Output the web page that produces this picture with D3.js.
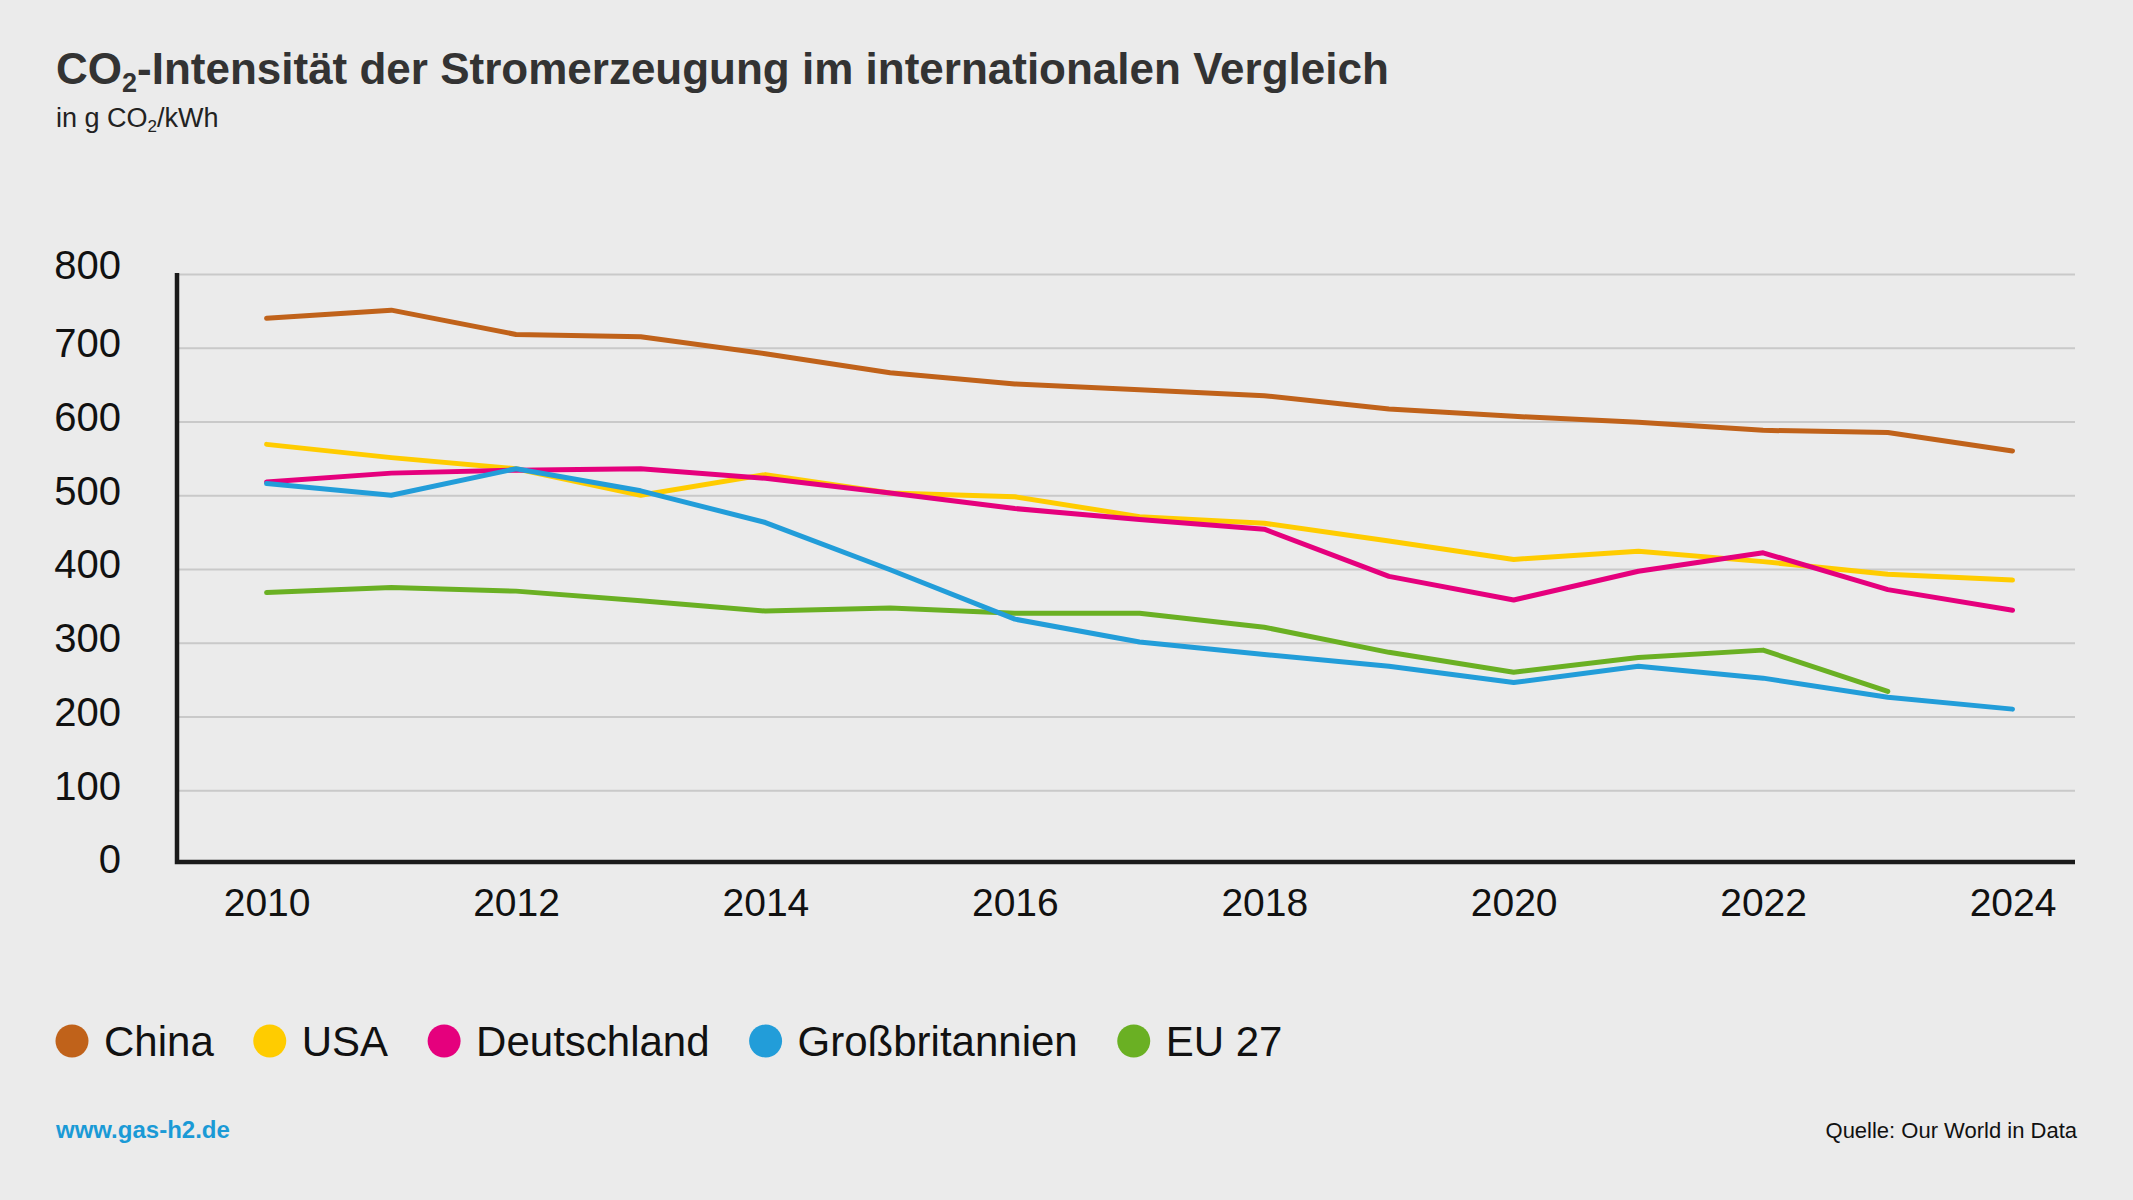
<!DOCTYPE html>
<html>
<head>
<meta charset="utf-8">
<script src="https://cdn.jsdelivr.net/npm/d3@7"></script>
<style>
  body { margin: 0; background: #ebebeb; }
  svg { display: block; font-family: 'Liberation Sans', Arial, Helvetica, sans-serif; }
</style>
</head>
<body>
<div id="chart"></div>
<script>
const years = [2010, 2011, 2012, 2013, 2014, 2015, 2016, 2017, 2018, 2019, 2020, 2021, 2022, 2023, 2024];
const china = [740, 751, 718, 715, 692, 666, 651, 643, 635, 617, 607, 599, 588, 585, 560];
const usa = [569, 551, 536, 500, 528, 503, 498, 471, 462, 438, 413, 424, 410, 393, 385];
const deutschland = [518, 530, 534, 536, 523, 503, 482, 467, 454, 390, 358, 397, 422, 372, 344];
const grossbritannien = [516, 500, 536, 506, 463, 399, 332, 301, 284, 268, 246, 268, 252, 226, 210];
const eu27 = [368, 375, 370, 357, 343, 347, 340, 340, 321, 287, 260, 280, 290, 234];
const yTicks = [0, 100, 200, 300, 400, 500, 600, 700, 800];
const xTicks = [2010, 2012, 2014, 2016, 2018, 2020, 2022, 2024];

const series = [
  { name: 'China', values: china, color: '#c0621a' },
  { name: 'USA', values: usa, color: '#ffcc00' },
  { name: 'Deutschland', values: deutschland, color: '#e5007d' },
  { name: 'Großbritannien', values: grossbritannien, color: '#229dd9' },
  { name: 'EU 27', values: eu27, color: '#6ab023' },
];
// Zeichenreihenfolge: blau liegt oben
const drawOrder = ['China', 'USA', 'EU 27', 'Deutschland', 'Großbritannien'];

const width = 2133;
const height = 1200;
const plot = { left: 177, right: 2075, top: 274, bottom: 864 };

const svg = d3.select('#chart').append('svg')
  .attr('width', width)
  .attr('height', height);

svg.append('rect').attr('width', width).attr('height', height).attr('fill', '#ebebeb');

// Titel
const title = svg.append('text')
  .attr('x', 56).attr('y', 84)
  .attr('font-size', 44).attr('font-weight', 700)
  .attr('fill', '#333333');
title.append('tspan').text('CO');
title.append('tspan').attr('font-size', 27).attr('dy', 8).text('2');
title.append('tspan').attr('dy', -8).text('-Intensität der Stromerzeugung im internationalen Vergleich');

const sub = svg.append('text')
  .attr('x', 56).attr('y', 127)
  .attr('font-size', 27)
  .attr('fill', '#222222');
sub.append('tspan').text('in g CO');
sub.append('tspan').attr('font-size', 17).attr('dy', 5).text('2');
sub.append('tspan').attr('dy', -5).text('/kWh');

const x = d3.scaleLinear().domain([2010, 2024]).range([266.6, 2012.5]);
const y = d3.scaleLinear().domain([0, 800]).range([plot.bottom, plot.top]);

// Gitterlinien
const grid = d3.axisRight(y)
  .tickValues(yTicks.filter(d => d > 0))
  .tickSize(plot.right - plot.left)
  .tickFormat('');
svg.append('g')
  .attr('transform', `translate(${plot.left},0)`)
  .call(grid)
  .call(g => g.select('.domain').remove())
  .call(g => g.selectAll('line').attr('stroke', '#c9c9c9').attr('stroke-width', 2));

// Y-Achse Beschriftung
const yAxis = d3.axisLeft(y).tickValues(yTicks).tickSize(0).tickPadding(56);
svg.append('g')
  .attr('transform', `translate(${plot.left},0)`)
  .call(yAxis)
  .call(g => g.select('.domain').remove())
  .call(g => g.selectAll('text')
    .attr('font-size', 40)
    .attr('fill', '#111111')
    .attr('font-family', null)
    .attr('dy', d => d === 800 ? '0.1em' : '0.22em'));

// X-Achse Beschriftung
const xAxis = d3.axisBottom(x).tickValues(xTicks).tickFormat(d3.format('d')).tickSize(0).tickPadding(24);
svg.append('g')
  .attr('transform', `translate(0,${plot.bottom})`)
  .call(xAxis)
  .call(g => g.select('.domain').remove())
  .call(g => g.selectAll('text')
    .attr('font-size', 39)
    .attr('fill', '#111111')
    .attr('font-family', null)
    .attr('dy', '0.71em'));

// Linien
const line = d3.line()
  .x((d, i) => x(years[i]))
  .y(d => y(d));

svg.append('g')
  .selectAll('path')
  .data(drawOrder.map(n => series.find(s => s.name === n)))
  .join('path')
  .attr('d', d => line(d.values))
  .attr('fill', 'none')
  .attr('stroke', d => d.color)
  .attr('stroke-width', 5)
  .attr('stroke-linejoin', 'round')
  .attr('stroke-linecap', 'round');

// Achsenlinien
svg.append('path')
  .attr('d', `M${plot.left},${plot.top - 1}V${plot.bottom - 2}H${plot.right}`)
  .attr('fill', 'none')
  .attr('stroke', '#1a1a1a')
  .attr('stroke-width', 4.5);

// Legende
const legend = svg.append('g');
let cx = 72;
series.forEach(s => {
  legend.append('circle')
    .attr('cx', cx).attr('cy', 1041)
    .attr('r', 16.5)
    .attr('fill', s.color);
  const t = legend.append('text')
    .attr('x', cx + 32).attr('y', 1056)
    .attr('font-size', 42)
    .attr('fill', '#111111')
    .text(s.name);
  cx = cx + 32 + t.node().getComputedTextLength() + 56;
});

// Fusszeile
svg.append('text')
  .attr('x', 56).attr('y', 1138)
  .attr('font-size', 24).attr('font-weight', 700)
  .attr('fill', '#1a9ad6')
  .text('www.gas-h2.de');

svg.append('text')
  .attr('x', 2077).attr('y', 1138)
  .attr('text-anchor', 'end')
  .attr('font-size', 22)
  .attr('fill', '#111111')
  .text('Quelle: Our World in Data');
</script>
</body>
</html>
